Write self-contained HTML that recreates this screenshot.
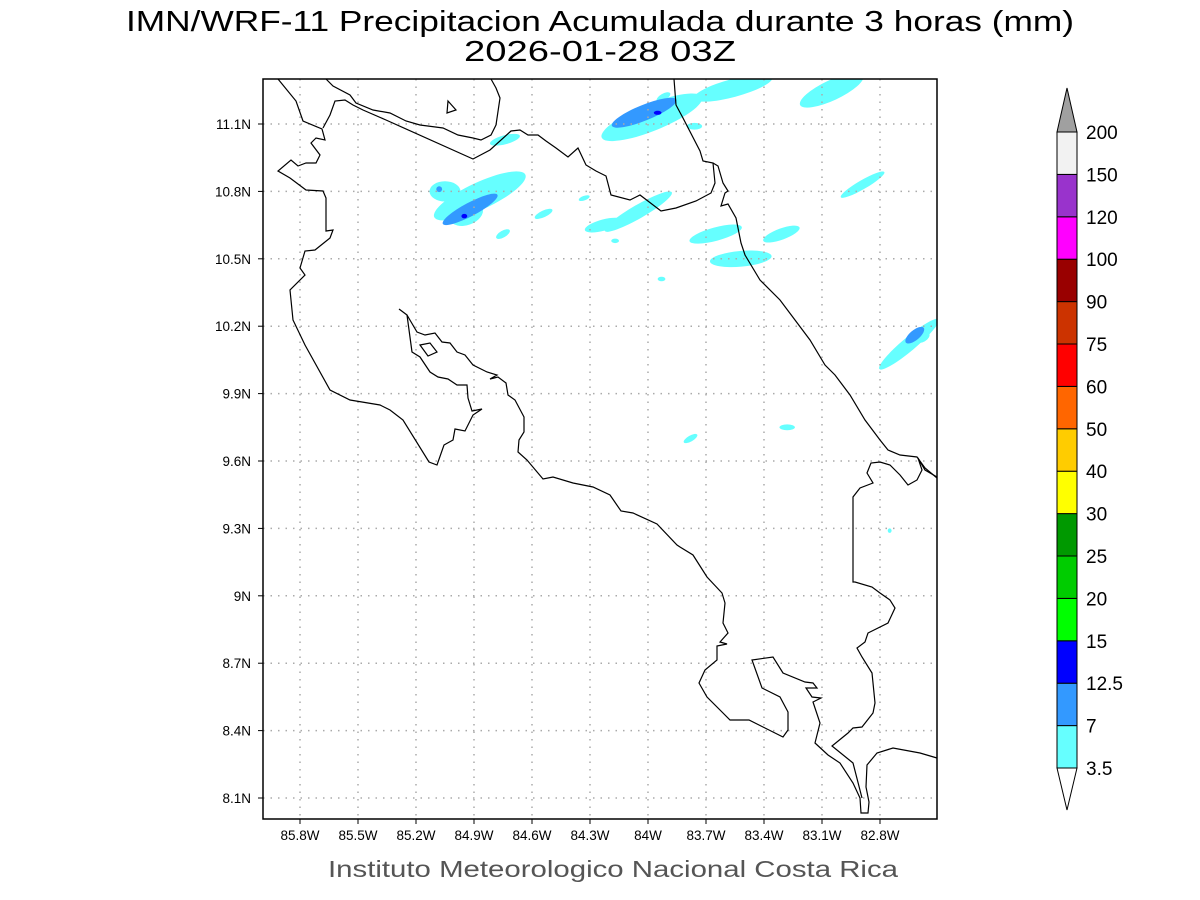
<!DOCTYPE html>
<html><head><meta charset="utf-8"><style>
html,body{margin:0;padding:0;background:#fff;}
svg{display:block;font-family:"Liberation Sans",sans-serif;}
</style></head><body>
<svg id="chart" width="1200" height="900" viewBox="0 0 1200 900" xmlns="http://www.w3.org/2000/svg">
<rect x="0" y="0" width="1200" height="900" fill="#fff"/>
<text x="600" y="31" font-size="29" text-anchor="middle" textLength="948" lengthAdjust="spacingAndGlyphs" fill="#000">IMN/WRF-11 Precipitacion Acumulada durante 3 horas (mm)</text>
<text x="600" y="61" font-size="29" text-anchor="middle" textLength="272" lengthAdjust="spacingAndGlyphs" fill="#000">2026-01-28 03Z</text>
<g id="precip"></g>
<g id="grid"></g>
<g fill="none" stroke="#000" stroke-width="1.2">
<polyline points="278,79 296,101 303,121 322,129 325,140 316,138 311,143 320,155 316,163 306,163 298,166 291,160 278,171 290,178 306,190 323,191 326,198 326,231 333,230 330,238 315,250 305,251 300,268 305,275 290,290 293,320 305,345 330,390 350,400 380,405 390,410 403,420 429,462 437,465 444,445 453,440 455,429 465,431 473,415 482,409 472,411 468,398 467,385 457,385 448,379 438,377 430,372 420,357 412,352 407,315 399,309"/>
<polyline points="407,315 417,332 425,335 435,333 442,342 450,343 457,352 465,355 473,365 487,372 497,375 490,379 498,377 506,383 508,395 515,400 524,417 524,432 519,440 518,452 527,460 543,479 553,477 573,483 593,487 610,495 621,511 633,513 657,524 677,545 680,547 693,555 707,577 722,593 725,603 723,623 728,633 720,642 727,644 717,646 717,660 705,670 699,683 707,697 723,713 730,720 749,720 783,737 788,730 788,712 780,697 762,688 752,660 773,657 783,673 805,682 813,683 817,688 806,688 812,697 821,698 813,702 820,723 815,743 828,755 840,763 853,783 860,798 861,813 868,813 869,802 866,787 867,765 877,753 893,748 920,753 937,758"/>
<polyline points="862,798 853,763 832,746 848,733 853,728 862,727 873,713 875,703 872,673 862,657 857,648 865,642 868,633 888,623 895,608 890,600 880,593 872,587 855,582 853,582 853,497 860,488 873,483 867,473 871,463 880,462 890,465 900,475 908,485 917,480 922,470 918,458 925,470 937,477"/>
<polyline points="323,128 330,115 335,101 345,100 353,105 363,110 386,120 473,159 490,150 511,131 520,130 528,135 538,135 546,141 556,148 568,157 578,148 586,165 596,171 606,176 611,195 630,200 640,195 661,211 676,208 696,201 711,193 715,183 713,163 703,161 700,151 683,118 676,105 674,79"/>
<polyline points="713,163 718,166 723,183 728,191 725,193 721,206 728,204 736,218 741,243 745,255 760,280 780,300 795,320 810,340 825,365 835,375 850,395 865,420 880,440 888,450 900,455 917,457 925,468 937,478"/>
<polyline points="326,79 333,86 350,95 356,103 373,110 390,113 406,121 420,125 443,128 458,135 473,138 481,140 491,135 496,125 500,98 496,88 491,79"/>
<polygon points="448,101 456,110 447,113"/>
<polygon points="420,345 430,343 437,352 428,356"/>
</g>
<rect x="263" y="79" width="674" height="740" fill="none" stroke="#000" stroke-width="1.5"/>
<g id="axes"></g>
<g id="colorbar"></g>
<text x="613" y="877" font-size="23" text-anchor="middle" textLength="570" lengthAdjust="spacingAndGlyphs" fill="#555">Instituto Meteorologico Nacional Costa Rica</text>
</svg>
<script>
// Axis ticks
const lonTicks = [85.8, 85.5, 85.2, 84.9, 84.6, 84.3, 84.0, 83.7, 83.4, 83.1, 82.8];
const lonLabels = ["85.8W","85.5W","85.2W","84.9W","84.6W","84.3W","84W","83.7W","83.4W","83.1W","82.8W"];
const latTicks = [11.1, 10.8, 10.5, 10.2, 9.9, 9.6, 9.3, 9.0, 8.7, 8.4, 8.1];
const latLabels = ["11.1N","10.8N","10.5N","10.2N","9.9N","9.6N","9.3N","9N","8.7N","8.4N","8.1N"];
// Precipitation cells: lon (deg W), lat (deg N), rx, ry (deg), angle, level index
const cellLon = [83.98, 83.56, 83.05, 83.92, 83.76, 84.74, 82.89, 84.87, 85.05, 84.94, 84.75, 84.54, 84.33, 84.05, 84.23, 83.65, 83.52, 83.31, 84.17, 83.93, 82.65, 82.58, 83.28, 83.78, 82.75, 84.02, 84.92, 85.08, 84.95, 83.95, 82.62];
const cellLat = [11.13, 11.26, 11.25, 11.22, 11.09, 11.03, 10.83, 10.78, 10.80, 10.70, 10.61, 10.70, 10.77, 10.71, 10.65, 10.61, 10.50, 10.61, 10.58, 10.41, 10.12, 10.15, 9.75, 9.70, 9.29, 11.15, 10.72, 10.81, 10.69, 11.15, 10.16];
const cellRx = [0.28, 0.21, 0.18, 0.04, 0.04, 0.08, 0.13, 0.26, 0.08, 0.09, 0.04, 0.05, 0.03, 0.20, 0.10, 0.14, 0.16, 0.10, 0.02, 0.02, 0.20, 0.04, 0.04, 0.04, 0.01, 0.18, 0.16, 0.015, 0.015, 0.02, 0.06];
const cellRy = [0.06, 0.04, 0.045, 0.015, 0.015, 0.02, 0.02, 0.06, 0.045, 0.05, 0.015, 0.015, 0.01, 0.03, 0.025, 0.03, 0.035, 0.025, 0.01, 0.01, 0.03, 0.02, 0.013, 0.013, 0.01, 0.035, 0.03, 0.013, 0.01, 0.009, 0.022];
const cellAng = [-22, -15, -25, -30, 0, -15, -30, -25, 0, -20, -30, -25, -20, -30, -15, -15, -5, -20, 0, 0, -40, -30, 0, -30, 0, -22, -28, 0, 0, 0, -40];
const cellLevel = [0, 0, 0, 0, 0, 0, 0, 0, 0, 0, 0, 0, 0, 0, 0, 0, 0, 0, 0, 0, 0, 0, 0, 0, 0, 1, 1, 1, 2, 2, 1];
// Colorbar
const cbLevels = ["3.5","7","12.5","15","20","25","30","40","50","60","75","90","100","120","150","200"];
const cbColors = ["#66ffff","#3399ff","#0000ff","#00ff00","#00cc00","#009900","#ffff00","#ffcc00","#ff6600","#ff0000","#cc3300","#990000","#ff00ff","#9933cc","#f2f2f2"];

const NS = "http://www.w3.org/2000/svg";
const x0 = 300, pxPerLon = 193.33, y0 = 124, pxPerLat = 224.67;
function xScale(lonW){ return x0 + (85.8 - lonW) * pxPerLon; }
function yScale(lat){ return y0 + (11.1 - lat) * pxPerLat; }
function mk(tag, attrs, parent){ const e=document.createElementNS(NS,tag); for(const k in attrs) e.setAttribute(k, attrs[k]); parent.appendChild(e); return e; }

const precip = document.getElementById('precip');
const clip = mk('clipPath', {id:'frameclip'}, document.getElementById('chart'));
mk('rect', {x:263, y:79, width:674, height:740}, clip);
precip.setAttribute('clip-path','url(#frameclip)');
cellLon.forEach((lon,i)=>{
  const cx=xScale(lon), cy=yScale(cellLat[i]);
  const e = mk('ellipse', {cx:cx, cy:cy, rx:cellRx[i]*pxPerLon, ry:cellRy[i]*pxPerLat, fill:cbColors[cellLevel[i]], transform:`rotate(${cellAng[i]} ${cx} ${cy})`}, precip);
  
  
});

const grid = document.getElementById('grid');
const axes = document.getElementById('axes');
lonTicks.forEach((lon,i)=>{
  const x = xScale(lon);
  const l = mk('line', {x1:x, y1:79, x2:x, y2:819, stroke:'#aaa', 'stroke-width':1.5, 'stroke-dasharray':'1.5 6'}, grid);
  
  
  mk('line', {x1:x, y1:819, x2:x, y2:824, stroke:'#000'}, axes);
  const t = mk('text', {x:x, y:840, 'font-size':13.5, 'text-anchor':'middle', fill:'#000'}, axes);
  t.textContent = lonLabels[i];
  
  
});
latTicks.forEach((lat,i)=>{
  const y = yScale(lat);
  const l = mk('line', {x1:263, y1:y, x2:937, y2:y, stroke:'#aaa', 'stroke-width':1.5, 'stroke-dasharray':'1.5 6'}, grid);
  
  
  mk('line', {x1:258, y1:y, x2:263, y2:y, stroke:'#000'}, axes);
  const t = mk('text', {x:251, y:y+5, 'font-size':13.5, 'text-anchor':'end', fill:'#000'}, axes);
  t.textContent = latLabels[i];
  
  
});

const cb = document.getElementById('colorbar');
const cbTop = 132, cbBot = 768, cbX = 1057, cbW = 20;
const boxH = (cbBot - cbTop) / cbColors.length;
cbColors.forEach((c,i)=>{
  const y = cbBot - (i+1)*boxH;
  const r = mk('rect', {x:cbX, y:y, width:cbW, height:boxH, fill:c, stroke:'#000', 'stroke-width':1}, cb);
  
  
});
const up = mk('polygon', {points:`${cbX},${cbTop} ${cbX+cbW},${cbTop} ${cbX+cbW/2},${cbTop-44}`, fill:'#a0a0a0', stroke:'#000'}, cb);


const dn = mk('polygon', {points:`${cbX},${cbBot} ${cbX+cbW},${cbBot} ${cbX+cbW/2},${cbBot+42}`, fill:'#fff', stroke:'#000'}, cb);


cbLevels.forEach((lab,i)=>{
  const y = cbBot - i*boxH;
  const t = mk('text', {x:1086, y:y+7, 'font-size':19, fill:'#000'}, cb);
  t.textContent = lab;
  
  
});
</script>
</body></html>
